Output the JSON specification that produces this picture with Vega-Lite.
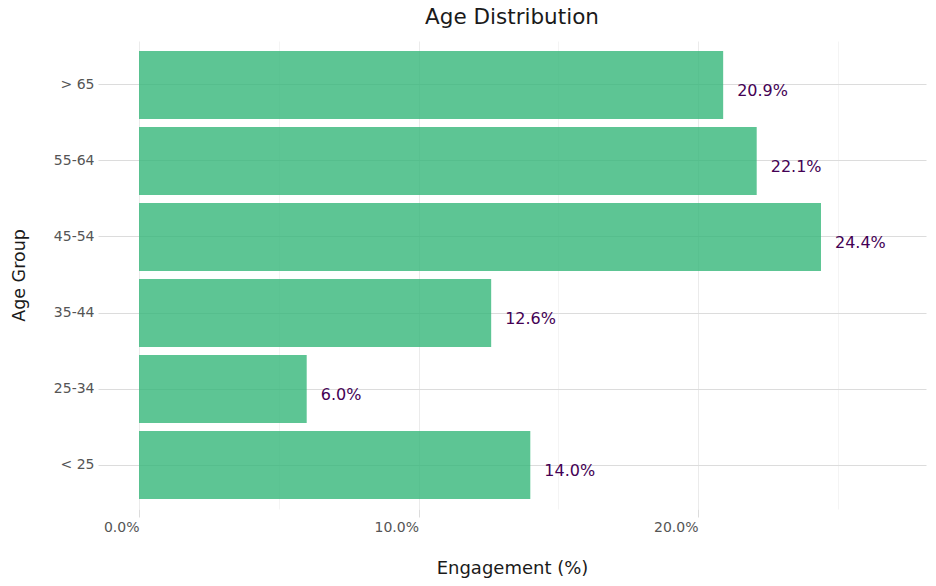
{
  "$schema": "https://vega.github.io/schema/vega-lite/v6.json",
  "autosize": {"type": "none"},
  "width": 828,
  "height": 468,
  "padding": {"left": 98, "top": 41, "right": 10, "bottom": 77},
  "background": "white",
  "config": {
    "font": "DejaVu Sans",
    "view": {"stroke": null}
  },
  "title": {
    "text": "Age Distribution",
    "fontSize": 21.5,
    "fontWeight": "normal",
    "color": "#1a1a1a",
    "anchor": "middle",
    "offset": 13
  },
  "data": {
    "values": [
      {"age": "> 65", "share": 0.209},
      {"age": "55-64", "share": 0.221},
      {"age": "45-54", "share": 0.244},
      {"age": "35-44", "share": 0.126},
      {"age": "25-34", "share": 0.060},
      {"age": "< 25", "share": 0.140}
    ]
  },
  "encoding": {
    "y": {
      "field": "age",
      "type": "nominal",
      "sort": ["> 65", "55-64", "45-54", "35-44", "25-34", "< 25"],
      "scale": {"paddingInner": 0.105, "paddingOuter": 0.13},
      "axis": {
        "title": "Age Group",
        "titleFontSize": 17.5,
        "titleFontWeight": "normal",
        "titleColor": "#1a1a1a",
        "titlePadding": 25,
        "labelFontSize": 14,
        "labelColor": "#555555",
        "labelPadding": 4,
        "domain": false,
        "ticks": false,
        "grid": true,
        "bandPosition": 0.5,
        "gridColor": "#dcdcdc",
        "gridWidth": 1
      }
    },
    "x": {
      "field": "share",
      "type": "quantitative",
      "scale": {"domain": [-0.01467, 0.28157], "nice": false, "zero": false},
      "axis": {
        "title": "Engagement (%)",
        "titleFontSize": 18,
        "titleFontWeight": "normal",
        "titleColor": "#1a1a1a",
        "titlePadding": 25,
        "values": [0, 0.05, 0.1, 0.15, 0.2, 0.25],
        "labelExpr": "round(datum.value * 100) % 10 === 0 ? format(datum.value, '.1%') : ''",
        "labelFontSize": 14,
        "labelColor": "#555555",
        "labelAlign": "right",
        "labelPadding": 3,
        "domain": false,
        "tickSize": 8,
        "tickColor": "#dcdcdc",
        "tickOpacity": {"condition": {"test": "round(datum.value * 100) % 10 === 0", "value": 1}, "value": 0},
        "grid": true,
        "gridColor": {"condition": {"test": "round(datum.value * 100) % 10 === 0", "value": "#ebebeb"}, "value": "#f4f4f4"}
      }
    }
  },
  "layer": [
    {
      "mark": {"type": "bar", "color": "#35b779", "opacity": 0.8}
    },
    {
      "mark": {"type": "text", "align": "left", "baseline": "middle", "dx": 14, "dy": 6, "fontSize": 16, "color": "#440154"},
      "encoding": {
        "text": {"field": "share", "type": "quantitative", "format": ".1%"}
      }
    }
  ]
}
